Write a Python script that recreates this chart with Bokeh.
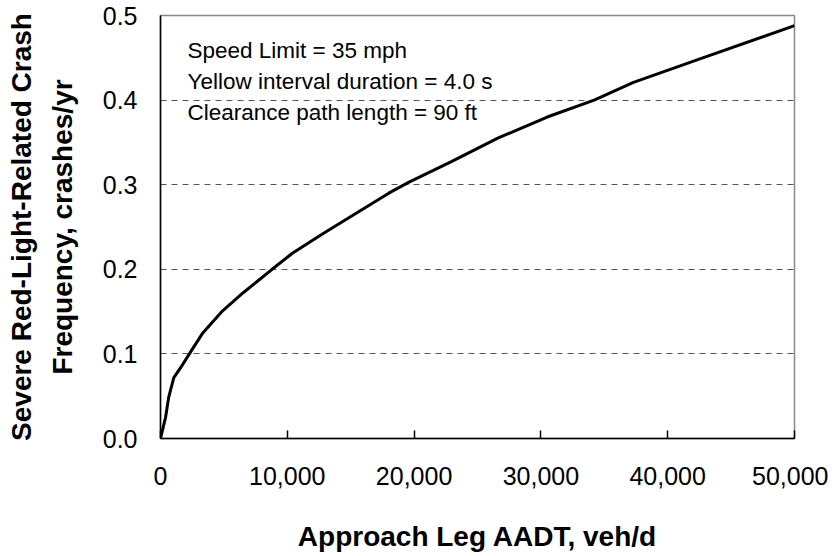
from bokeh.plotting import figure
from bokeh.models import Range1d, NumeralTickFormatter, FixedTicker, Label
from bokeh.embed import file_html
from bokeh.resources import INLINE

# data
aadt = [0, 400, 650, 1050, 1600, 2400, 3300, 4900, 6500, 8800, 10400, 12800,
        15400, 18000, 19600, 22900, 26600, 30500, 34200, 37300, 42600, 50000]
crash_freq = [0.0, 0.025, 0.049, 0.072, 0.084, 0.103, 0.124, 0.151, 0.172,
              0.200, 0.219, 0.242, 0.266, 0.290, 0.303, 0.327, 0.355, 0.380,
              0.400, 0.421, 0.449, 0.488]
x_ticks = [0, 10000, 20000, 30000, 40000, 50000]
y_ticks = [0.0, 0.1, 0.2, 0.3, 0.4, 0.5]
notes = ["Speed Limit = 35 mph", "Yellow interval duration = 4.0 s",
         "Clearance path length = 90 ft"]
note_y = [0.4586, 0.4225, 0.3857]

FONT = "Liberation Sans"

p = figure(width=828, height=556, output_backend="svg", toolbar_location=None,
           x_range=Range1d(0, 50000), y_range=Range1d(0, 0.5),
           min_border_left=160, min_border_right=34, min_border_top=15,
           min_border_bottom=118)
p.background_fill_color = "white"
p.border_fill_color = "white"
p.outline_line_color = "#888888"
p.outline_line_width = 1.5

p.line(aadt, crash_freq, line_color="black", line_width=3)

# axes
p.xaxis.ticker = FixedTicker(ticks=x_ticks)
p.yaxis.ticker = FixedTicker(ticks=y_ticks)
p.xaxis.formatter = NumeralTickFormatter(format="0,0")
p.yaxis.formatter = NumeralTickFormatter(format="0.0")
for ax in (p.xaxis, p.yaxis):
    ax.axis_line_color = "black"
    ax.axis_line_width = 1.5
    ax.major_label_text_font = FONT
    ax.major_label_text_font_size = "25px"
    ax.major_label_text_color = "black"
    ax.minor_tick_line_color = None
    ax.axis_label_text_font = FONT
    ax.axis_label_text_font_style = "bold"
    ax.axis_label_text_font_size = "28px"
    ax.axis_label_text_color = "black"
p.xaxis.major_tick_in = 8
p.xaxis.major_tick_out = 0
p.xaxis.major_tick_line_color = "black"
p.xaxis.major_tick_line_width = 1.5
p.xaxis.major_label_standoff = 28
p.xaxis.axis_label = "Approach Leg AADT, veh/d"
p.xaxis.axis_label_standoff = 33
p.yaxis.major_tick_in = 0
p.yaxis.major_tick_out = 0
p.yaxis.major_label_standoff = 23
p.yaxis.axis_label = "Severe Red-Light-Related Crash\nFrequency, crashes/yr"
p.yaxis.axis_label_standoff = 22
p.yaxis.axis_label_text_line_height = 1.3

# grid
p.xgrid.grid_line_color = None
p.ygrid.grid_line_color = "#555555"
p.ygrid.grid_line_dash = "6 5"
p.ygrid.grid_line_width = 1

# annotation text
for t, yy in zip(notes, note_y):
    p.add_layout(Label(x=2130, y=yy, text=t,
                       text_font=FONT, text_font_size="22.5px",
                       text_color="black", text_baseline="alphabetic"))

open("out.html", "w").write(file_html(p, INLINE))
